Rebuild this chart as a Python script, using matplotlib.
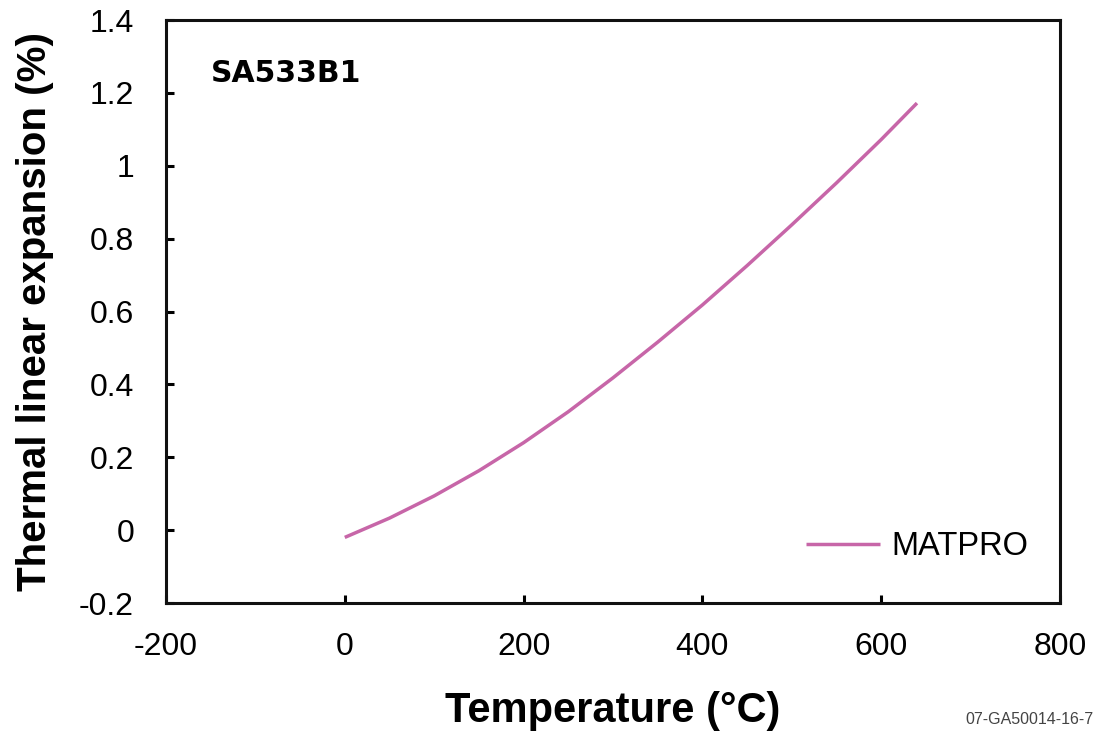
import matplotlib
matplotlib.use("Agg")
import matplotlib.pyplot as plt

temperature = [0, 50, 100, 150, 200, 250, 300, 350, 400, 450, 500, 550, 600, 640]
expansion = [-0.020, 0.033, 0.094, 0.163, 0.240, 0.325, 0.418, 0.516, 0.618, 0.726, 0.838, 0.953, 1.072, 1.172]
series_label = "MATPRO"
material = "SA533B1"
xticks = [-200, 0, 200, 400, 600, 800]
yticks = [-0.2, 0, 0.2, 0.4, 0.6, 0.8, 1, 1.2, 1.4]
ytick_labels = ["-0.2", "0", "0.2", "0.4", "0.6", "0.8", "1", "1.2", "1.4"]

plt.rcParams['font.family'] = ['Liberation Sans', 'DejaVu Sans']

fig = plt.figure(figsize=(10.97, 7.36), dpi=100)
ax = fig.add_axes([0.1513, 0.1807, 0.8150, 0.7921])

ax.plot(temperature, expansion, color='#C766A8', lw=2.5, label=series_label,
        solid_capstyle='butt', solid_joinstyle='round')

ax.set_xlim(-200, 800)
ax.set_ylim(-0.2, 1.4)
ax.set_xticks(xticks)
ax.set_xticklabels([str(t) for t in xticks])
ax.set_yticks(yticks)
ax.set_yticklabels(ytick_labels)
ax.tick_params(direction='in', length=6, width=2.2, labelsize=23, colors='black')
ax.tick_params(axis='x', pad=21)
ax.tick_params(axis='y', pad=23)
for s in ax.spines.values():
    s.set_linewidth(2.2)
    s.set_color('#111111')

ax.set_xlabel("Temperature (°C)", fontsize=30, fontweight='bold', va='center')
ax.xaxis.set_label_coords(0.5, -0.185)
ax.set_ylabel("Thermal linear expansion (%)", fontsize=29, fontweight='bold', va='center')
ax.yaxis.set_label_coords(-0.146, 0.5)

ax.text(0.0503, 0.908, material, transform=ax.transAxes, fontsize=21.5, fontweight='bold',
        family='DejaVu Sans', va='center', ha='left')

leg = ax.legend(loc='center right', bbox_to_anchor=(0.964, 0.097), frameon=False, fontsize=23.5,
                handlelength=2.27, handletextpad=0.34, borderaxespad=0, borderpad=0)

fig.text(0.9965, 1 - 720 / 736, "07-GA50014-16-7", ha='right', va='center', fontsize=11.5, color='#444444')

fig.savefig("out.png", dpi=100)
